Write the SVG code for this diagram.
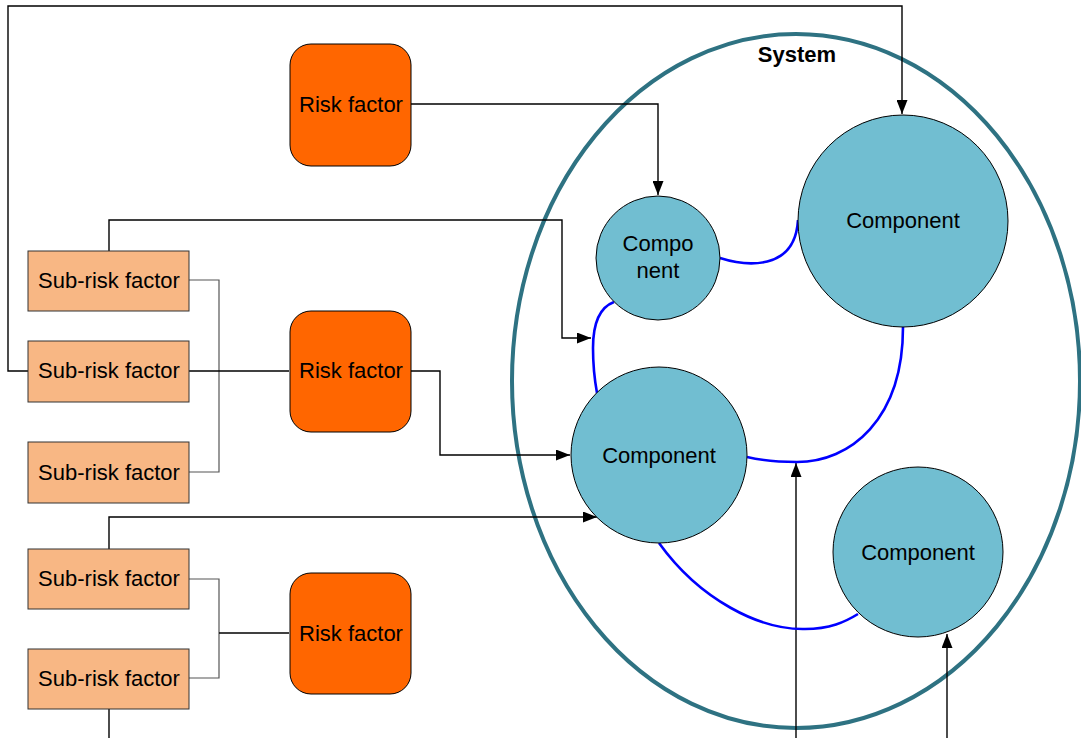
<svg xmlns="http://www.w3.org/2000/svg" width="1081" height="738" viewBox="0 0 1081 738">
<style>
text{font-family:"Liberation Sans",Arial,sans-serif;font-size:22px;fill:#000;text-anchor:middle}
.rf{fill:#ff6600;stroke:#000;stroke-width:1}
.srf{fill:#f8b784;stroke:#333;stroke-width:1}
.comp{fill:#71bed1;stroke:#000;stroke-width:1}
.c{fill:none;stroke:#000;stroke-width:1.4}
.g{fill:none;stroke:#555;stroke-width:1.2}
.b{fill:none;stroke:#0000ff;stroke-width:2.6}
</style>
<defs>
<marker id="ah" viewBox="0 0 14 11" refX="14" refY="5.5" markerWidth="14" markerHeight="11" markerUnits="userSpaceOnUse" orient="auto">
<path d="M0,0 L14,5.5 L0,11 Z" fill="#000"/>
</marker>
</defs>
<rect width="1081" height="738" fill="#fff"/>
<g id="system">
<ellipse cx="796" cy="381" rx="284" ry="347" fill="none" stroke="#2e7282" stroke-width="4"/>
<text x="797" y="62" style="font-weight:bold">System</text>
</g>
<g id="connectors">
<path class="c" d="M28,371 H8 V6 H902 V114" marker-end="url(#ah)"/>
<path class="c" d="M411,104 H658 V195" marker-end="url(#ah)"/>
<path class="c" d="M109,251 V220 H562 V338 H591" marker-end="url(#ah)"/>
<path class="g" d="M189,280 H219 V472 H189"/>
<path class="c" d="M189,371 H289"/>
<path class="c" d="M411,371 H440 V455 H570" marker-end="url(#ah)"/>
<path class="c" d="M109,549 V517 H597" marker-end="url(#ah)"/>
<path class="g" d="M189,579 H219 V678 H189"/>
<path class="c" d="M219,633 H289"/>
<path class="c" d="M109,709 V738"/>
<path class="c" d="M796,738 V463" marker-end="url(#ah)"/>
<path class="c" d="M947,738 V634" marker-end="url(#ah)"/>
<path class="b" d="M720,258 C745,266 795,272 798,220"/>
<path class="b" d="M614,302 C598,308 593,328 593,348 C593,368 595,382 597,393"/>
<path class="b" d="M903,327 C903,420 850,462 797,462 C775,462 760,460 747,457"/>
<path class="b" d="M659,543 C700,600 760,630 805,629 C830,629 845,622 858,614"/>
</g>
<g id="rf1"><rect class="rf" x="290" y="44" width="121" height="122" rx="21"/><text x="351" y="112">Risk factor</text></g>
<g id="rf2"><rect class="rf" x="290" y="311" width="121" height="121" rx="21"/><text x="351" y="378">Risk factor</text></g>
<g id="rf3"><rect class="rf" x="290" y="573" width="121" height="121" rx="21"/><text x="351" y="641">Risk factor</text></g>
<g id="srf1"><rect class="srf" x="28" y="251" width="161" height="60"/><text x="109" y="288">Sub-risk factor</text></g>
<g id="srf2"><rect class="srf" x="28" y="341" width="161" height="61"/><text x="109" y="378">Sub-risk factor</text></g>
<g id="srf3"><rect class="srf" x="28" y="442" width="161" height="61"/><text x="109" y="480">Sub-risk factor</text></g>
<g id="srf4"><rect class="srf" x="28" y="549" width="161" height="60"/><text x="109" y="586">Sub-risk factor</text></g>
<g id="srf5"><rect class="srf" x="28" y="649" width="161" height="60"/><text x="109" y="686">Sub-risk factor</text></g>
<g id="comp1"><ellipse class="comp" cx="658" cy="258" rx="62" ry="62"/><text x="658" y="251">Compo</text><text x="658" y="278">nent</text></g>
<g id="comp2"><ellipse class="comp" cx="903" cy="221" rx="105" ry="106"/><text x="903" y="228">Component</text></g>
<g id="comp3"><ellipse class="comp" cx="659" cy="455" rx="88" ry="88"/><text x="659" y="463">Component</text></g>
<g id="comp4"><ellipse class="comp" cx="918" cy="552" rx="85" ry="85"/><text x="918" y="560">Component</text></g>
</svg>
